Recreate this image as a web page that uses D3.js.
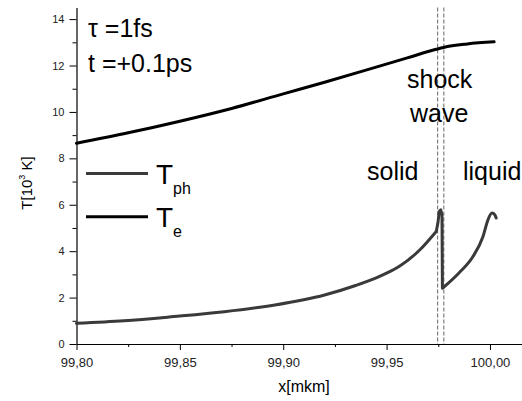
<!DOCTYPE html>
<html>
<head>
<meta charset="UTF-8">
<script src="https://d3js.org/d3.v7.min.js"></script>
<style>
  * { margin: 0; padding: 0; }
  body { background: #fff; font-family: "Liberation Sans", Arial, sans-serif; }
  svg text { font-family: "Liberation Sans", Arial, sans-serif; }
</style>
</head>
<body>
<svg id="chart" width="522" height="401"></svg>
<script>
// electron temperature T_e (10^3 K)
const teX = [99.80, 99.825, 99.85, 99.875, 99.90, 99.92, 99.94, 99.96, 99.974, 99.9775, 99.989, 100.002];
const teY = [8.65, 9.10, 9.60, 10.15, 10.78, 11.28, 11.80, 12.33, 12.70, 12.78, 12.93, 13.02];

// phonon temperature T_ph (10^3 K): solid branch, shock jump, liquid branch
const solidX = [99.80, 99.823, 99.847, 99.8715, 99.896, 99.92, 99.935, 99.945, 99.95, 99.9564, 99.966, 99.974];
const solidY = [0.89, 1.00, 1.18, 1.39, 1.68, 2.11, 2.52, 2.85, 3.05, 3.36, 4.05, 4.85];
const jumpX = [99.974, 99.9748, 99.9755, 99.9762, 99.9768, 99.977];
const jumpY = [4.85, 5.20, 5.72, 5.78, 5.55, 2.40];
const liquidX = [99.977, 99.985, 99.9917, 99.9966, 99.999, 100.001, 100.0024, 100.003];
const liquidY = [2.40, 3.06, 3.76, 4.62, 5.34, 5.64, 5.56, 5.43];

// shock wave front bounds
const shockX = [99.9747, 99.9777];

const xTicks = [99.80, 99.85, 99.90, 99.95, 100.00];
const xMinor = [99.825, 99.875, 99.925, 99.975];
const yTicks = [0, 2, 4, 6, 8, 10, 12, 14];
const yMinor = [1, 3, 5, 7, 9, 11, 13];

const svg = d3.select('#chart');

const x = d3.scaleLinear().domain([99.80, 100.0155]).range([76.5, 522]);
const y = d3.scaleLinear().domain([0, 14.5]).range([344, 7.5]);

const fmt = v => d3.format('.2f')(v).replace('.', ',');

// minor ticks first
svg.append('g')
    .attr('transform', 'translate(0,344)')
    .call(d3.axisBottom(x).tickValues(xMinor).tickSize(3).tickFormat(''))
    .call(g => g.select('.domain').remove());
svg.append('g')
    .attr('transform', 'translate(76.5,0)')
    .call(d3.axisLeft(y).tickValues(yMinor).tickSize(4).tickFormat(''))
    .call(g => g.select('.domain').remove());

const xAxis = svg.append('g')
    .attr('transform', 'translate(0,344)')
    .call(d3.axisBottom(x).tickValues(xTicks).tickSize(6).tickPadding(8).tickFormat(fmt).tickSizeOuter(0));
xAxis.selectAll('text').attr('font-size', 13).attr('fill', '#222');

const yAxis = svg.append('g')
    .attr('transform', 'translate(76.5,0)')
    .call(d3.axisLeft(y).tickValues(yTicks).tickSize(7).tickPadding(5).tickSizeOuter(0));
yAxis.selectAll('text').attr('font-size', 11).attr('fill', '#222');

svg.selectAll('.domain').attr('stroke', '#000').attr('stroke-width', 1.2);
svg.selectAll('.tick line').attr('stroke', '#000');

// axis titles
svg.append('text')
    .attr('x', 304).attr('y', 392)
    .attr('text-anchor', 'middle')
    .attr('font-size', 16)
    .text('x[mkm]');

const yl = svg.append('text')
    .attr('transform', 'translate(32,183) rotate(-90)')
    .attr('text-anchor', 'middle')
    .attr('font-size', 15);
yl.append('tspan').text('T[10');
yl.append('tspan').attr('font-size', 9).attr('dy', -7).text('3');
yl.append('tspan').attr('dy', 7).text(' K]');

// shock wave boundaries
svg.selectAll('.shock')
    .data(shockX)
    .enter().append('line')
    .attr('class', 'shock')
    .attr('x1', d => x(d)).attr('x2', d => x(d))
    .attr('y1', y(14.5)).attr('y2', y(0))
    .attr('stroke', '#666')
    .attr('stroke-width', 1)
    .attr('stroke-dasharray', '4,2');

const smooth = d3.line()
    .x(d => x(d[0]))
    .y(d => y(d[1]))
    .curve(d3.curveMonotoneX);
const straight = d3.line()
    .x(d => x(d[0]))
    .y(d => y(d[1]));

const pairs = (xs, ys) => xs.map((v, i) => [v, ys[i]]);

svg.append('path')
    .attr('d', smooth(pairs(teX, teY)))
    .attr('fill', 'none')
    .attr('stroke', '#000')
    .attr('stroke-width', 3)
    .attr('stroke-linecap', 'round');

const phPath = smooth(pairs(solidX, solidY)) +
    straight(pairs(jumpX, jumpY)).replace(/^M/, 'L') +
    smooth(pairs(liquidX, liquidY)).replace(/^M/, 'L');

svg.append('path')
    .attr('d', phPath)
    .attr('fill', 'none')
    .attr('stroke', '#3a3a3a')
    .attr('stroke-width', 3)
    .attr('stroke-linejoin', 'round')
    .attr('stroke-linecap', 'round');

// legend
const legend = [
    { label: 'T', sub: 'ph', color: '#3a3a3a', y: 173.5 },
    { label: 'T', sub: 'e', color: '#000', y: 216.7 }
];
legend.forEach(d => {
    svg.append('line')
        .attr('x1', 86).attr('x2', 148)
        .attr('y1', d.y).attr('y2', d.y)
        .attr('stroke', d.color).attr('stroke-width', 3);
    const t = svg.append('text')
        .attr('x', 156).attr('y', d.y + 10)
        .attr('font-size', 28);
    t.append('tspan').text(d.label);
    t.append('tspan').attr('font-size', 16).attr('dy', 10).text(d.sub);
});

// annotations
const notes = [
    { text: 'τ =1fs', x: 88, y: 37 },
    { text: 't =+0.1ps', x: 88, y: 72 },
    { text: 'shock', x: 407, y: 88 },
    { text: 'wave', x: 410, y: 122 },
    { text: 'solid', x: 367, y: 180 },
    { text: 'liquid', x: 463, y: 180 }
];
svg.selectAll('.note')
    .data(notes)
    .enter().append('text')
    .attr('class', 'note')
    .attr('x', d => d.x).attr('y', d => d.y)
    .attr('font-size', 25)
    .text(d => d.text);
</script>
</body>
</html>
